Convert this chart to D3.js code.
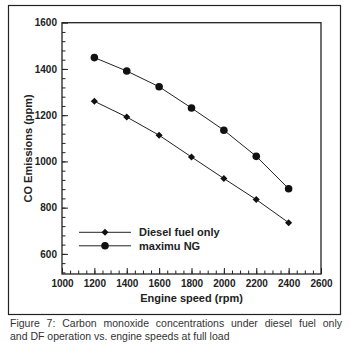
<!DOCTYPE html>
<html>
<head>
<meta charset="utf-8">
<script src="https://cdn.jsdelivr.net/npm/d3@7"></script>
<style>
  body { margin: 0; background: #fff; }
  svg { display: block; font-family: Arial, "Liberation Sans", sans-serif; }
  .axis path { display: none; }
  .axis line { stroke: #222; stroke-width: 1; }
  .axis text { font-size: 10px; font-weight: bold; fill: #222; }
</style>
</head>
<body>
<svg width="354" height="348"></svg>
<script>
var speed = [1200, 1400, 1600, 1800, 2000, 2200, 2400]
var diesel = [1260, 1192, 1113, 1019, 926, 835, 735]
var maxNG = [1449, 1391, 1323, 1231, 1135, 1022, 882]
var seriesNames = ["Diesel fuel only", "maximu NG"]
var xTicks = [1000, 1200, 1400, 1600, 1800, 2000, 2200, 2400, 2600]
var yTicks = [600, 800, 1000, 1200, 1400, 1600]

var svg = d3.select("svg")
// note: "top" is taken by window.top, so plot edges get their own names
var plotL = 62, plotR = 321, plotT = 22.7, plotB = 274

var x = d3.scaleLinear().domain([1000, 2600]).range([plotL, plotR])
var y = d3.scaleLinear().domain([513, 1600]).range([plotB, plotT])

// outer frame
svg.append("rect")
  .attr("x", 8.5).attr("y", 5.5)
  .attr("width", 332).attr("height", 309)
  .attr("fill", "none").attr("stroke", "#222").attr("stroke-width", 1.2)

// plot frame
svg.append("rect")
  .attr("x", plotL).attr("y", plotT)
  .attr("width", plotR - plotL).attr("height", plotB - plotT)
  .attr("fill", "none").attr("stroke", "#222").attr("stroke-width", 1.3)

// minor ticks
svg.append("g").attr("class", "axis")
  .attr("transform", "translate(0," + plotB + ")")
  .call(d3.axisBottom(x).tickValues(d3.range(1050, 2600, 50)).tickSize(-3.5).tickFormat(""))
svg.append("g").attr("class", "axis")
  .attr("transform", "translate(" + plotL + ",0)")
  .call(d3.axisLeft(y).tickValues(d3.range(520, 1600, 40)).tickSize(-3.5).tickFormat(""))

// major ticks + labels
svg.append("g").attr("class", "axis")
  .attr("transform", "translate(0," + plotB + ")")
  .call(d3.axisBottom(x).tickValues(xTicks).tickSize(-6).tickPadding(6).tickFormat(d3.format("d")))
svg.append("g").attr("class", "axis")
  .attr("transform", "translate(" + plotL + ",0)")
  .call(d3.axisLeft(y).tickValues(yTicks).tickSize(-6).tickPadding(5).tickFormat(d3.format("d")))

// axis titles
svg.append("text")
  .attr("x", (plotL + plotR) / 2).attr("y", 301.5)
  .attr("text-anchor", "middle")
  .style("font-size", "11px").style("font-weight", "bold").style("fill", "#222")
  .text("Engine speed (rpm)")

svg.append("text")
  .attr("transform", "translate(32," + ((plotT + plotB) / 2) + ") rotate(-90)")
  .attr("text-anchor", "middle")
  .style("font-size", "11px").style("font-weight", "bold").style("fill", "#222")
  .text("CO Emissions (ppm)")

// series
var line = d3.line().x((d, i) => x(speed[i])).y(d => y(d))
var diamond = d3.symbol().type(d3.symbolSquare).size(25)

svg.append("path").datum(diesel)
  .attr("d", line).attr("fill", "none").attr("stroke", "#222").attr("stroke-width", 1)
svg.append("path").datum(maxNG)
  .attr("d", line).attr("fill", "none").attr("stroke", "#222").attr("stroke-width", 1)

svg.selectAll(".dia").data(diesel).enter().append("path")
  .attr("class", "dia")
  .attr("d", diamond)
  .attr("transform", (d, i) => "translate(" + x(speed[i]) + "," + y(d) + ") rotate(45)")
  .attr("fill", "#111")

svg.selectAll(".dot").data(maxNG).enter().append("circle")
  .attr("class", "dot")
  .attr("cx", (d, i) => x(speed[i])).attr("cy", d => y(d))
  .attr("r", 3.8).attr("fill", "#111")

// legend
var legY = [232.3, 245.8]
seriesNames.forEach(function (name, i) {
  var g = svg.append("g").attr("transform", "translate(0," + legY[i] + ")")
  g.append("line").attr("x1", 79).attr("x2", 131).attr("stroke", "#222").attr("stroke-width", 1)
  if (i == 0) {
    g.append("path").attr("d", diamond).attr("transform", "translate(105,0) rotate(45)").attr("fill", "#111")
  } else {
    g.append("circle").attr("cx", 105).attr("r", 3.8).attr("fill", "#111")
  }
  g.append("text").attr("x", 139).attr("y", 4)
    .style("font-size", "11px").style("font-weight", "bold").style("fill", "#222")
    .text(name)
})

// caption, first line justified
var cap1 = svg.append("text")
  .attr("x", 10).attr("y", 327)
  .style("font-size", "10.5px").style("fill", "#333")
  .text("Figure 7: Carbon monoxide concentrations under diesel fuel only")
var w = cap1.node().getComputedTextLength()
var gaps = cap1.text().split(" ").length - 1
cap1.style("word-spacing", ((342 - 10 - w) / gaps) + "px")

svg.append("text")
  .attr("x", 10).attr("y", 340)
  .style("font-size", "10.5px").style("fill", "#333")
  .text("and DF operation vs. engine speeds at full load")
</script>
</body>
</html>
